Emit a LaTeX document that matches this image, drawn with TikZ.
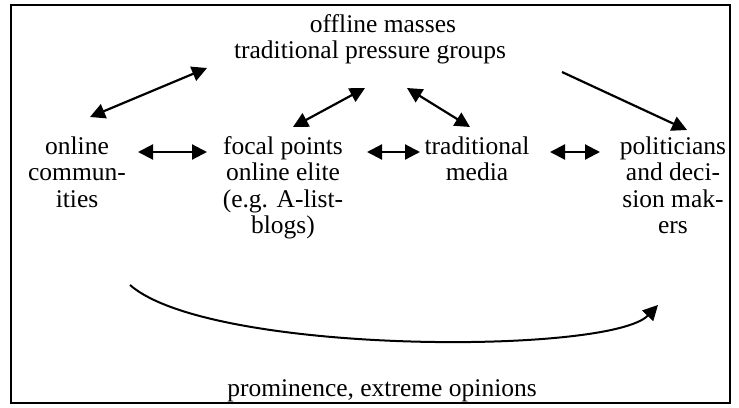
\documentclass[tikz,border=0pt]{standalone}
\usepackage{fontspec}
\setmainfont{Liberation Serif}
\usepackage{tikz}
\usetikzlibrary{arrows.meta}

\begin{document}
\begin{tikzpicture}[
    x=1pt,y=-1pt,
    label/.style={align=center,inner sep=0pt,anchor=base,font=\fontsize{25.5pt}{26.5pt}\selectfont},
    twoway/.style={{Triangle[length=15pt,width=15pt]}-{Triangle[length=15pt,width=15pt]},line width=2.2pt},
    oneway/.style={-{Triangle[length=15pt,width=15pt]},line width=2.2pt}
  ]
    \useasboundingbox (0,0) rectangle (739,407);
    \draw[line width=2pt] (11,5) rectangle (730,403);
    % nodes sit on the baseline of their last line
    \node[label] (offline) at (370,58.5) {\hspace*{26pt}offline masses\\traditional pressure groups};
    \node[label] (online) at (77,207) {online\\commun-\\ities};
    \node[label] (focal) at (283,233.5) {focal points\\online elite\\(e.g. A-list-\\blogs)};
    \node[label] (media) at (477,180.5) {traditional\\media};
    \node[label] (politicians) at (673,233.5) {politicians\\and deci-\\sion mak-\\ers};
    \node[label] (prominence) at (382,396) {prominence, extreme opinions};
    \draw[twoway] ([xshift=13pt,yshift=90pt]online.base) -- ([xshift=-163pt,yshift=-9.5pt]offline.base);
    \draw[twoway] ([xshift=10pt,yshift=106.5pt]focal.base) -- ([xshift=-5pt,yshift=-29.5pt]offline.base);
    \draw[twoway] ([xshift=-7pt,yshift=53.5pt]media.base) -- ([xshift=37pt,yshift=-29.5pt]offline.base);
    \draw[oneway] ([xshift=192pt,yshift=-13.5pt]offline.base) -- ([xshift=14pt,yshift=103.5pt]politicians.base);
    \draw[twoway] ([xshift=61pt,yshift=55pt]online.base) -- ([xshift=-76pt,yshift=81.5pt]focal.base);
    \draw[twoway] ([xshift=84pt,yshift=81.5pt]focal.base) -- ([xshift=-57pt,yshift=28.5pt]media.base);
    \draw[twoway] ([xshift=73pt,yshift=28.5pt]media.base) -- ([xshift=-73pt,yshift=81.5pt]politicians.base);
    \draw[oneway,line width=2pt] ([xshift=53pt,yshift=-78pt]online.base) .. controls +(80,70) and +(-48,50) .. ([xshift=-15pt,yshift=-71.5pt]politicians.base);
\end{tikzpicture}
\end{document}
